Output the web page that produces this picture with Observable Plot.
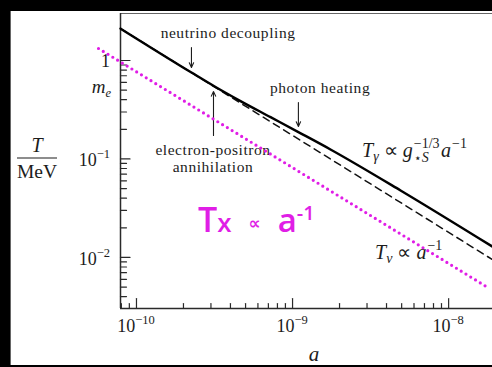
<!DOCTYPE html>
<html>
<head>
<meta charset="utf-8">
<script src="https://cdn.jsdelivr.net/npm/d3@7"></script>
<script src="https://cdn.jsdelivr.net/npm/@observablehq/plot@0.6"></script>
<style>
  html, body { margin: 0; padding: 0; background: #000; width: 492px; height: 367px; overflow: hidden; }
  #panel { position: absolute; left: 10px; top: 11px; width: 481px; height: 354px; background: #fff; border-left: 1px solid #666; }
  #panel svg { display: block; overflow: visible; }
  #panel svg text, #panel svg tspan { white-space: pre; }
</style>
</head>
<body>
<div id="panel"></div>
<script>
// Axis extents: scale factor a and temperature T in MeV
const xDomain = [7.9e-11, 1.91e-8];
const yDomain = [0.00303, 3.0];

// Photon temperature T_gamma through e+e- annihilation
const photonA = [7.9e-11, 2.25e-10, 3.21e-10, 4.64e-10, 7.23e-10, 1.09e-9, 1.75e-9, 4.92e-9, 1.91e-8];
const photonT = [2.11, 0.755, 0.538, 0.3871, 0.2657, 0.1875, 0.1249, 0.0479, 0.01287];

// Neutrino temperature T_nu ∝ 1/a
const neutrinoA = [7.9e-11, 1.91e-8];
const neutrinoT = [2.11, 0.0095];

// Hand-drawn Tx ∝ 1/a guide
const txA = [5.71e-11, 1.778e-8];
const txT = [1.324, 0.00496];

// Ticks
const xMajor = [1e-10, 1e-9, 1e-8];
const xMajorExp = ["−10", "−9", "−8"];
const xMinor = [8e-11, 9e-11,
  2e-10, 3e-10, 4e-10, 5e-10, 6e-10, 7e-10, 8e-10, 9e-10,
  2e-9, 3e-9, 4e-9, 5e-9, 6e-9, 7e-9, 8e-9, 9e-9];
const yMajor = [1, 0.1, 0.01];
const yMajorLabel = ["1", "10", "10"];
const yMajorExp = ["", "−1", "−2"];
const yMinor = [0.9, 0.8, 0.7, 0.6, 0.5, 0.4, 0.3, 0.2,
  0.09, 0.08, 0.07, 0.06, 0.05, 0.04, 0.03, 0.02,
  0.009, 0.008, 0.007, 0.006, 0.005, 0.004];
const electronMass = 0.511;

// Annotations
const noteText = ["neutrino decoupling", "photon heating", "electron-positron", "annihilation"];
const noteA = [3.89e-10, 1.512e-9, 3.115e-10, 3.115e-10];
const noteT = [1.88, 0.5195, 0.1220, 0.0820];

const arrowA = [2.25e-10, 1.09e-9, 3.115e-10];
const arrowFrom = [1.355, 0.3746, 0.1733];
const arrowTo = [0.849, 0.2138, 0.4844];

const gammaLabelAt = [2.81e-9, 0.1035];
const nuLabelAt = [3.405e-9, 0.00954];
const txLabelAt = [2.496e-10, 0.01794];

const photon = photonA.map((a, i) => ({a, T: photonT[i]}));
const neutrino = neutrinoA.map((a, i) => ({a, T: neutrinoT[i]}));
const tx = txA.map((a, i) => ({a, T: txT[i]}));
const arrows = arrowA.map((a, i) => ({a, T1: arrowFrom[i], T2: arrowTo[i]}));

const axisColor = "#2a2a2a";
const ink = "#1c1c1c";
const magenta = "#e01ee6";

// A plain line segment pointing "up" in vector space, used for inward ticks
const tickShape = {draw(context, l) { context.moveTo(0, 0); context.lineTo(0, -l); }};

const W = 481, H = 354;
const mL = 109, mR = 0, mT = 2, mB = 57;

const plot = Plot.plot({
  width: W, height: H,
  marginLeft: mL, marginRight: mR, marginTop: mT, marginBottom: mB,
  x: {type: "log", domain: xDomain, axis: null},
  y: {type: "log", domain: yDomain, axis: null},
  style: {background: "white", overflow: "visible"},
  marks: [
    Plot.ruleY([yDomain[1]], {stroke: "#666", strokeWidth: 1.2}),
    Plot.ruleX([xDomain[0]], {y1: yDomain[0], y2: yDomain[1], stroke: axisColor, strokeWidth: 1.5}),
    Plot.ruleY([yDomain[0]], {stroke: axisColor, strokeWidth: 1.5}),
    Plot.vector(yMajor, {x: () => xDomain[0], y: d => d, length: 9.5, rotate: 90, anchor: "start", shape: tickShape, stroke: axisColor, strokeWidth: 1.2}),
    Plot.vector(yMinor, {x: () => xDomain[0], y: d => d, length: 6, rotate: 90, anchor: "start", shape: tickShape, stroke: axisColor, strokeWidth: 1.2}),
    Plot.vector(xMajor, {x: d => d, y: () => yDomain[0], length: 10, rotate: 0, anchor: "start", shape: tickShape, stroke: axisColor, strokeWidth: 1.2}),
    Plot.vector(xMinor, {x: d => d, y: () => yDomain[0], length: 5, rotate: 0, anchor: "start", shape: tickShape, stroke: axisColor, strokeWidth: 1.2}),
    Plot.line(neutrino, {x: "a", y: "T", stroke: "#111", strokeWidth: 1.5, strokeDasharray: "7 5"}),
    Plot.line(photon, {x: "a", y: "T", stroke: "#000", strokeWidth: 2.4, curve: "monotone-x"}),
    Plot.arrow(arrows, {x1: "a", y1: "T1", x2: "a", y2: "T2", stroke: ink, strokeWidth: 1.1, headLength: 7, headAngle: 50}),
    Plot.line(tx, {x: "a", y: "T", stroke: magenta, strokeWidth: 3.2, strokeDasharray: "0 5.6", strokeLinecap: "round"})
  ]
});

document.getElementById("panel").appendChild(plot);
const svg = d3.select(plot);
const xs = d3.scaleLog(xDomain, [mL, W - mR]);
const ys = d3.scaleLog(yDomain, [H - mB, mT]);

const serif = "'Liberation Serif', 'Times New Roman', serif";

// One text element whose tspans flow in sequence; `shift` moves a piece
// off the baseline (sub/superscripts), `dx` adds or removes room before it.
function mathText(px, py, pieces, {family = serif, size = 18, color = ink, weight = 400, anchor = "start"} = {}) {
  const t = svg.append("text")
    .attr("x", px).attr("y", py)
    .attr("text-anchor", anchor)
    .attr("font-family", family).attr("font-size", size)
    .attr("font-weight", weight).attr("fill", color);
  let cur = 0;
  for (const p of pieces) {
    const shift = p.shift || 0;
    const s = t.append("tspan")
      .attr("font-style", p.italic ? "italic" : "normal")
      .attr("dy", shift - cur)
      .text(p.text);
    cur = shift;
    if (p.size) s.attr("font-size", p.size);
    if (p.dx) s.attr("dx", p.dx);
  }
  return t;
}

// x tick labels
xMajor.forEach((v, i) => {
  mathText(xs(v), H - mB + 24, [{text: "10"}, {text: xMajorExp[i], size: 12.5, shift: -8}], {anchor: "middle"});
});
// y tick labels
yMajor.forEach((v, i) => {
  const pieces = yMajorExp[i]
    ? [{text: yMajorLabel[i]}, {text: yMajorExp[i], size: 12.5, shift: -8}]
    : [{text: yMajorLabel[i]}];
  mathText(mL - 10, ys(v) + (yMajorExp[i] ? 8 : 7), pieces, {anchor: "end"});
});
mathText(mL - 9, ys(electronMass) + 4.5,
  [{text: "m", italic: true}, {text: "e", italic: true, size: 12.5, shift: 4}], {size: 19, anchor: "end"});

// axis titles
mathText((mL + W) / 2 + 8, H - 4, [{text: "a", italic: true}], {size: 21, anchor: "middle"});
mathText(26, 141, [{text: "T", italic: true}], {size: 20, anchor: "middle"});
svg.append("line").attr("x1", 6).attr("x2", 46).attr("y1", 147).attr("y2", 147)
  .attr("stroke", ink).attr("stroke-width", 1.1);
mathText(26, 167, [{text: "MeV"}], {size: 19.5, anchor: "middle"});

// plain annotations
noteText.forEach((t, i) => {
  svg.append("text")
    .attr("x", xs(noteA[i])).attr("y", ys(noteT[i])).attr("dy", "0.35em")
    .attr("text-anchor", "middle")
    .attr("font-family", serif).attr("font-size", 15.5)
    .attr("letter-spacing", "0.55px")
    .attr("fill", ink)
    .text(t);
});

// curve labels
mathText(xs(gammaLabelAt[0]), ys(gammaLabelAt[1]), [
  {text: "T", italic: true},
  {text: "γ", italic: true, size: 14, shift: 4},
  {text: " ∝ "},
  {text: "g", italic: true},
  {text: "⋆", size: 12, shift: 5, dx: 1},
  {text: "S", italic: true, size: 14, shift: 5},
  {text: "−1/3", size: 14, shift: -9, dx: -15},
  {text: "a", italic: true, dx: 1.5},
  {text: "−1", size: 14, shift: -9, dx: 1}
], {size: 20});

mathText(xs(nuLabelAt[0]), ys(nuLabelAt[1]), [
  {text: "T", italic: true},
  {text: "ν", italic: true, size: 14, shift: 4},
  {text: " ∝ "},
  {text: "a", italic: true},
  {text: "−1", size: 14, shift: -9, dx: 1}
], {size: 20});

// Tx ∝ a^-1 guide label
mathText(xs(txLabelAt[0]), ys(txLabelAt[1]), [
  {text: "T", size: 34},
  {text: "x", size: 26},
  {text: "∝", size: 17, shift: -3, dx: 17},
  {text: "a", size: 33, dx: 17},
  {text: "-1", size: 20, shift: -12}
], {family: "'Open Sans', 'DejaVu Sans', sans-serif", size: 30, color: magenta, weight: 600});

// keep the dotted guide above the labels it crosses
svg.selectAll(`g[stroke="${magenta}"]`).raise();
</script>
</body>
</html>
